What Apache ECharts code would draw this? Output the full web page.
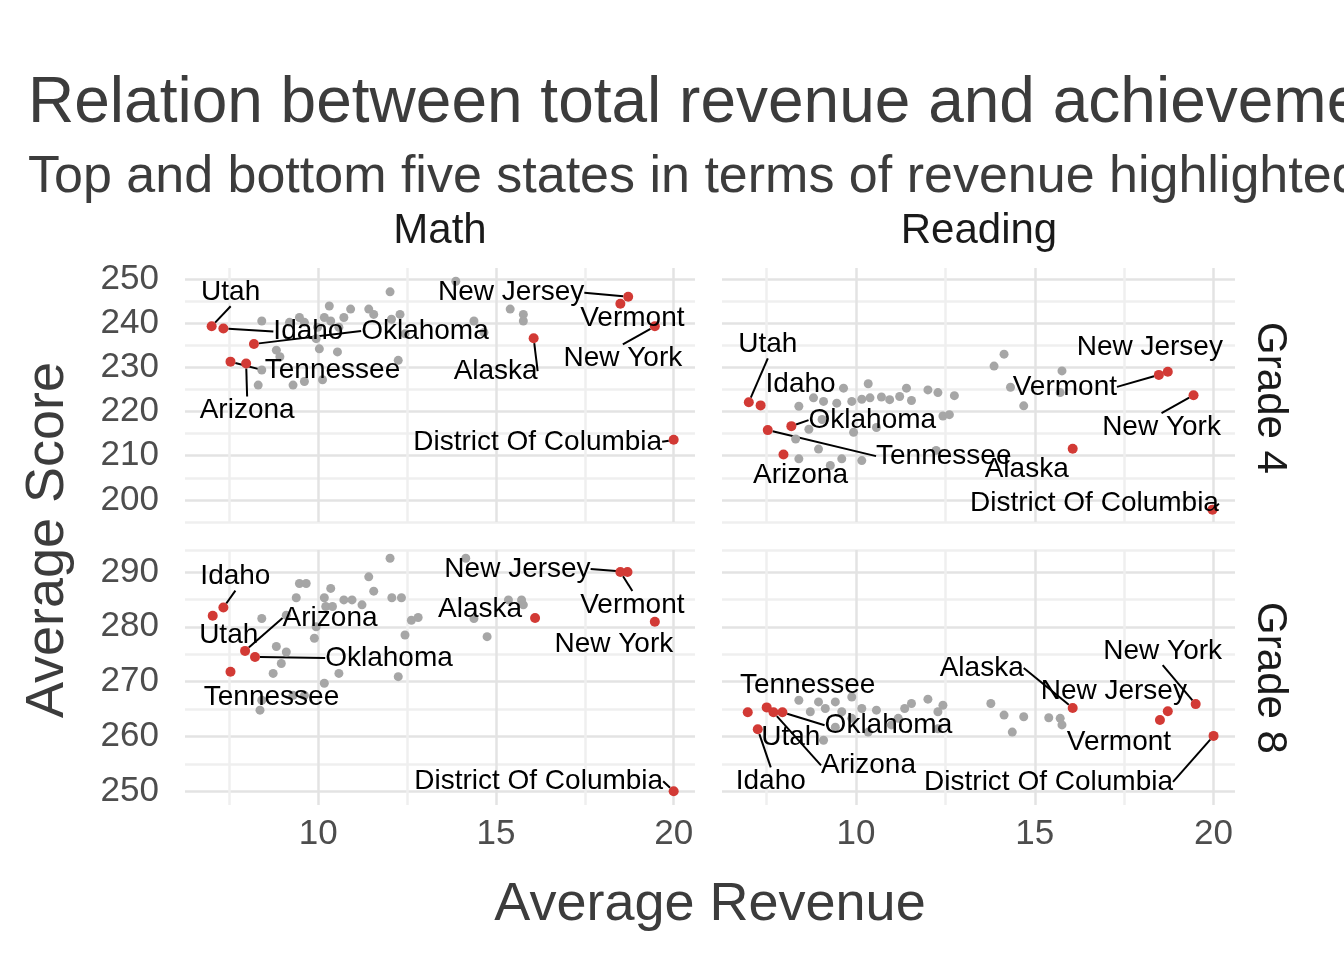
<!DOCTYPE html>
<html>
<head>
<meta charset="utf-8">
<script src="https://cdn.jsdelivr.net/npm/echarts@6/dist/echarts.min.js"></script>
<style>html,body{margin:0;padding:0;background:#fff}#main{width:1344px;height:960px}</style>
</head>
<body>
<div id="main"></div>
<script>
// highlighted states (same order in every panel)
var states = ['Utah', 'Idaho', 'Arizona', 'Tennessee', 'Oklahoma', 'Alaska', 'New Jersey', 'Vermont', 'New York', 'District Of Columbia'];

var mathG4Rev   = [7.0, 7.33, 7.97, 7.53, 8.19, 16.06, 18.72, 18.5, 19.47, 20.0];
var mathG4Score = [239.3, 238.8, 230.9, 231.3, 235.3, 236.6, 246.0, 244.4, 239.3, 213.6];
var readG4Rev   = [7.0, 7.33, 7.97, 7.53, 8.19, 16.06, 18.72, 18.47, 19.44, 19.97];
var readG4Score = [222.1, 221.4, 210.3, 215.8, 216.7, 211.6, 229.0, 228.3, 223.7, 197.8];
var mathG8Rev   = [7.03, 7.33, 7.94, 7.53, 8.22, 16.1, 18.7, 18.5, 19.47, 20.0];
var mathG8Score = [282.0, 283.5, 275.6, 271.8, 274.5, 281.6, 290.0, 290.0, 280.9, 250.0];
var readG8Rev   = [6.97, 7.25, 7.69, 7.5, 7.94, 16.06, 18.72, 18.5, 19.5, 20.0];
var readG8Score = [264.4, 261.3, 264.4, 265.3, 264.4, 265.2, 264.6, 263.0, 265.9, 260.1];

// other states
var mathG4OtherRev = [13.87, 12.02, 10.31, 10.91, 11.42, 11.56, 12.30, 9.47, 10.17, 10.72, 12.06, 8.41, 9.19, 9.61, 10.35, 14.38, 15.40, 15.77, 15.77, 9.98, 10.58, 14.66, 12.44, 9.94, 10.03, 10.54, 8.82, 8.92, 12.25, 8.41, 9.61, 9.29, 10.12, 8.31];
var mathG4OtherScore = [249.5, 247.1, 243.9, 243.2, 243.2, 242.0, 242.0, 241.3, 241.3, 241.3, 240.9, 240.5, 240.2, 240.2, 240.5, 240.5, 243.2, 242.0, 240.5, 239.1, 239.1, 237.9, 237.6, 236.5, 234.2, 233.5, 233.9, 232.4, 231.6, 229.4, 226.8, 226.0, 227.2, 226.0];
var readG4OtherRev = [14.14, 13.86, 15.76, 14.32, 15.71, 14.69, 9.65, 10.34, 8.81, 9.09, 9.46, 9.88, 10.16, 10.39, 10.71, 10.94, 11.22, 11.41, 11.55, 12.01, 12.29, 12.75, 8.4, 9.05, 9.93, 10.57, 12.43, 12.61, 8.68, 8.31, 8.95, 9.6, 9.28, 8.4, 10.16, 12.24];
var readG4OtherScore = [233.0, 230.3, 229.2, 225.5, 224.3, 221.3, 225.3, 226.3, 223.1, 222.3, 221.9, 222.3, 222.8, 223.1, 223.3, 222.7, 223.4, 225.3, 222.5, 224.9, 224.3, 223.6, 221.2, 218.2, 215.3, 216.4, 219.0, 219.3, 216.0, 213.8, 211.5, 209.3, 207.8, 209.3, 208.9, 211.2];
var mathG8OtherRev = [14.15, 12.02, 11.42, 9.47, 9.66, 10.35, 11.56, 9.38, 10.17, 10.72, 10.95, 12.07, 12.34, 11.23, 10.21, 10.4, 15.35, 15.72, 15.77, 8.41, 9.1, 12.62, 12.81, 14.38, 9.94, 12.44, 14.75, 9.89, 8.82, 9.1, 8.96, 8.73, 10.58, 12.25, 10.17, 8.41, 8.36, 9.29, 9.61];
var mathG8OtherScore = [292.5, 292.5, 289.1, 287.9, 287.9, 287.0, 286.5, 285.3, 285.3, 284.9, 284.9, 285.3, 285.3, 284.0, 283.7, 283.7, 284.9, 284.9, 284.0, 281.5, 282.1, 281.2, 281.7, 281.5, 280.0, 278.5, 278.2, 277.9, 276.4, 275.4, 273.3, 271.5, 271.5, 270.9, 269.7, 266.6, 264.8, 267.5, 267.5];
var readG8OtherRev = [8.4, 8.95, 9.42, 9.88, 12.01, 11.55, 11.36, 12.43, 12.29, 10.16, 10.57, 8.72, 9.14, 9.6, 13.77, 14.14, 14.69, 15.39, 15.71, 15.76, 14.37, 9.42, 10.34, 12.29, 9.09, 10.99, 11.18, 9.88];
var readG8OtherScore = [266.6, 266.3, 266.3, 267.2, 266.8, 266.0, 265.1, 265.7, 264.5, 265.1, 264.8, 264.5, 265.1, 264.5, 266.0, 263.9, 263.6, 263.4, 263.3, 262.1, 260.8, 261.7, 260.8, 261.4, 259.3, 262.1, 263.3, 263.3];

var xTicks = [10, 15, 20];
var yTicksG4 = [200, 210, 220, 230, 240, 250];
var yTicksG8 = [250, 260, 270, 280, 290];

// label placement (pixel offsets from point), same order as states
var labelOffsets = [
  [[19,-34],[85,3],[1,47],[102,9],[171,-13],[-38,33],[-117,-4],[12,15],[-32,32],[-136,2]],
  [[19,-58],[40,-21],[17,21],[176,26],[81,-6],[-46,21],[-18,-25],[-94,12],[-32,32],[-118,-6]],
  [[16,19],[12,-31],[85,-33],[41,26],[134,1],[-55,-9],[-110,-3],[12,33],[-41,22],[-135,-10]],
  [[43,25],[13,52],[95,53],[41,-22],[106,13],[-91,-40],[-54,-20],[-41,22],[-33,-53],[-165,46]]
];

var panels = [
  {rev: mathG4Rev, score: mathG4Score, oRev: mathG4OtherRev, oScore: mathG4OtherScore},
  {rev: readG4Rev, score: readG4Score, oRev: readG4OtherRev, oScore: readG4OtherScore},
  {rev: mathG8Rev, score: mathG8Score, oRev: mathG8OtherRev, oScore: mathG8OtherScore},
  {rev: readG8Rev, score: readG8Score, oRev: readG8OtherRev, oScore: readG8OtherScore}
];

var FONT = 'Liberation Sans, Arial, sans-serif';
var gridPos = [
  {left: 185, top: 268, width: 510, height: 254},
  {left: 722, top: 268, width: 513, height: 254},
  {left: 185, top: 550, width: 510, height: 255},
  {left: 722, top: 550, width: 513, height: 255}
];
var NONE = 'rgba(0,0,0,0)', MAJ = '#e3e3e3', MIN = '#efefef';

var grids = [], xAxes = [], yAxes = [], series = [];
panels.forEach(function (p, i) {
  grids.push(gridPos[i]);
  var top = i < 2, left = i % 2 === 0;
  xAxes.push({
    gridIndex: i, type: 'value', min: 6.25, max: 20.6, interval: 1.25,
    axisLine: {show: false}, axisTick: {show: false},
    axisLabel: {show: !top, color: '#4d4d4d', fontSize: 35, fontFamily: FONT, margin: 12,
      formatter: function (v) { return xTicks.indexOf(v) >= 0 ? String(v) : ''; }},
    splitLine: {lineStyle: {width: 2.5, color: [NONE, MIN, NONE, MAJ]}}
  });
  var ticks = top ? yTicksG4 : yTicksG8;
  yAxes.push({
    gridIndex: i, type: 'value', interval: 2.5,
    min: top ? 195 : 247.5, max: top ? 252.5 : 294,
    axisLine: {show: false}, axisTick: {show: false},
    axisLabel: {show: left, color: '#4d4d4d', fontSize: 35, fontFamily: FONT, margin: 26,
      formatter: function (v) { return ticks.indexOf(v) >= 0 ? String(v) : ''; }},
    splitLine: {lineStyle: {width: 2.5, color: top ? [MIN, NONE, MAJ, NONE] : [NONE, MAJ, NONE, MIN]}}
  });
  series.push({
    type: 'scatter', xAxisIndex: i, yAxisIndex: i, symbolSize: 9, silent: true,
    itemStyle: {color: '#a6a6a6', opacity: 1},
    data: p.oRev.map(function (x, k) { return [x, p.oScore[k]]; })
  });
  var offs = labelOffsets[i];
  series.push({
    type: 'scatter', xAxisIndex: i, yAxisIndex: i, symbolSize: 10, silent: true,
    itemStyle: {color: '#d23a35', opacity: 1},
    label: {show: true, position: 'inside', formatter: '{b}', color: '#000',
      fontSize: 28, fontFamily: FONT},
    labelLine: {show: true, lineStyle: {color: '#000', width: 2}},
    labelLayout: function (params) {
      var o = offs[params.dataIndex];
      return {dx: o[0], dy: o[1]};
    },
    data: p.rev.map(function (x, k) {
      var o = offs[k];
      var far = Math.abs(o[0]) > 70 || Math.abs(o[1]) > 30;
      return {name: states[k], value: [x, p.score[k]], labelLine: {show: far}};
    })
  });
});

var txt = function (x, y, s, size, extra) {
  var st = {text: s, x: x, y: y, fill: '#3c3c3c', fontSize: size, fontFamily: FONT};
  for (var k in extra) st[k] = extra[k];
  return {type: 'text', style: st};
};

var myChart = echarts.init(document.getElementById('main'));
myChart.setOption({
  backgroundColor: '#fff',
  animation: false,
  grid: grids,
  xAxis: xAxes,
  yAxis: yAxes,
  series: series,
  graphic: [
    txt(28, 72, 'Relation between total revenue and achievement levels', 64, {verticalAlign: 'alphabetic'}),
    txt(28, 152, 'Top and bottom five states in terms of revenue highlighted', 52, {verticalAlign: 'alphabetic'}),
    txt(440, 231, 'Math', 42, {fill: '#1a1a1a', align: 'center', verticalAlign: 'middle'}),
    txt(979, 231, 'Reading', 42, {fill: '#1a1a1a', align: 'center', verticalAlign: 'middle'}),
    {type: 'text', x: 1270, y: 398, rotation: -Math.PI / 2,
      style: {text: 'Grade 4', fill: '#1a1a1a', fontSize: 42, fontFamily: FONT, align: 'center', verticalAlign: 'middle'}},
    {type: 'text', x: 1270, y: 678, rotation: -Math.PI / 2,
      style: {text: 'Grade 8', fill: '#1a1a1a', fontSize: 42, fontFamily: FONT, align: 'center', verticalAlign: 'middle'}},
    txt(710, 905, 'Average Revenue', 54, {align: 'center', verticalAlign: 'middle'}),
    {type: 'text', x: 48, y: 540, rotation: Math.PI / 2,
      style: {text: 'Average Score', fill: '#3c3c3c', fontSize: 54, fontFamily: FONT, align: 'center', verticalAlign: 'middle'}}
  ]
});
</script>
</body>
</html>
